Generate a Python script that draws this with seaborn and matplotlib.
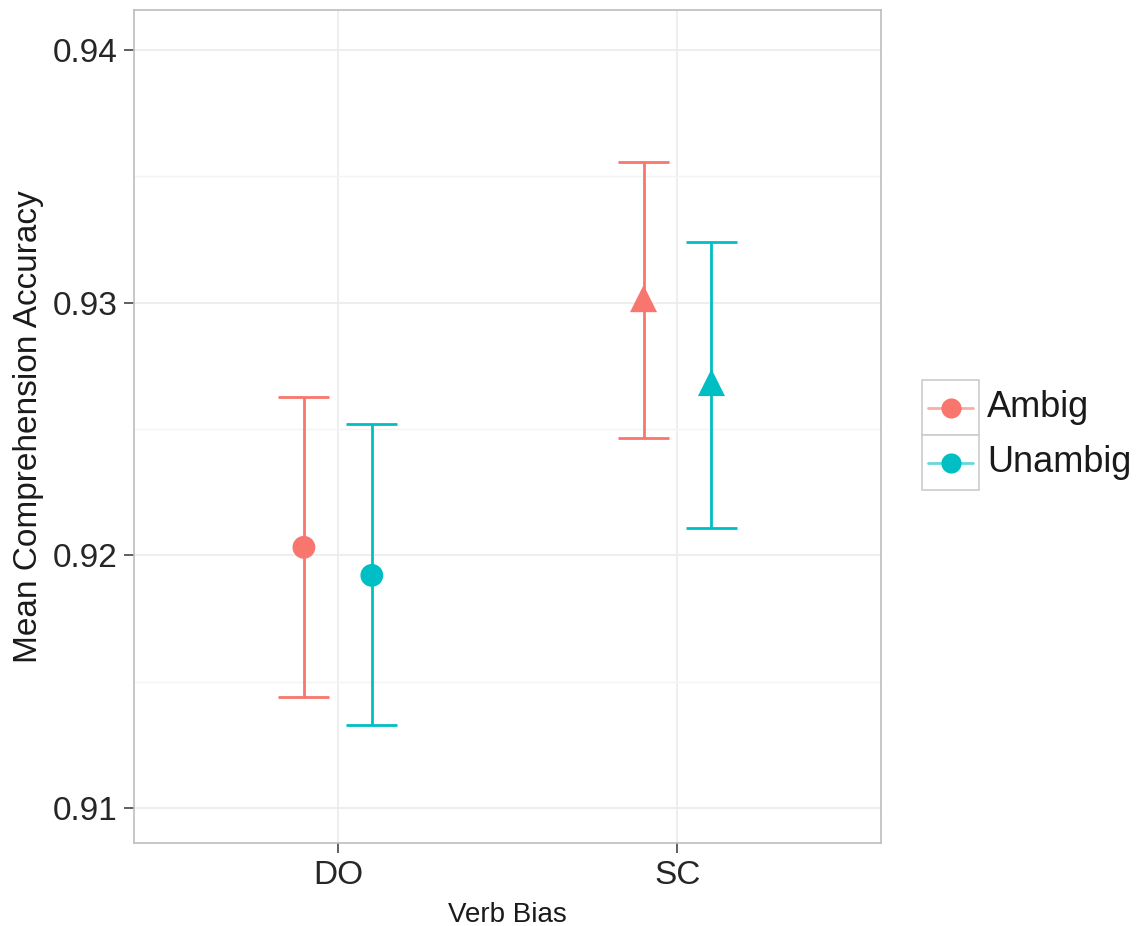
import numpy as np
import pandas as pd
import matplotlib
matplotlib.use('Agg')
import matplotlib.pyplot as plt
import seaborn as sns
from matplotlib.lines import Line2D
from matplotlib.patches import Rectangle

# values
bias = ['DO', 'DO', 'SC', 'SC']
condition = ['Ambig', 'Unambig', 'Ambig', 'Unambig']
mean_acc = [0.92032, 0.91921, 0.93016, 0.92684]
upper = [0.92628, 0.92518, 0.93557, 0.93241]
lower = [0.91439, 0.91328, 0.92466, 0.92107]

bias_levels = ['DO', 'SC']
cond_levels = ['Ambig', 'Unambig']
palette = {'Ambig': '#F8766D', 'Unambig': '#00BFC4'}
markers = {'DO': 'o', 'SC': '^'}

df = pd.DataFrame({'bias': bias, 'condition': condition, 'acc': mean_acc,
                   'hi': upper, 'lo': lower})
dodge = {'Ambig': -0.1, 'Unambig': 0.1}
df['x'] = [bias_levels.index(b) + 1 + dodge[c] for b, c in zip(df['bias'], df['condition'])]

sns.set_style('whitegrid')
plt.rcParams['font.family'] = ['Liberation Sans', 'DejaVu Sans']

fig = plt.figure(figsize=(11.46, 9.26), dpi=100)
ax = fig.add_axes([0.117, 0.0896, 0.652, 0.8996])

# error bars
for _, r in df.iterrows():
    col = palette[r['condition']]
    ax.vlines(r['x'], r['lo'], r['hi'], color=col, lw=2, zorder=2)
    ax.hlines([r['lo'], r['hi']], r['x'] - 0.075, r['x'] + 0.075, color=col, lw=2, zorder=2)

sns.scatterplot(data=df, x='x', y='acc', hue='condition', style='bias', size='bias',
                palette=palette, markers=markers, sizes={'DO': 270, 'SC': 380},
                edgecolor='none', legend=False, ax=ax, zorder=3)

ax.set_xticks([1, 2])
ax.set_xticklabels(bias_levels)
ax.set_yticks([0.91, 0.92, 0.93, 0.94])
ax.set_yticklabels(['0.91', '0.92', '0.93', '0.94'])
ax.set_yticks([0.915, 0.925, 0.935], minor=True)
ax.set_xlim(0.4, 2.6)
ax.set_ylim(0.90862, 0.94158)
ax.set_xlabel('Verb Bias', fontsize=20, labelpad=8, color='#1a1a1a')
ax.set_ylabel('Mean Comprehension Accuracy', fontsize=24, labelpad=6, color='#1a1a1a')
ax.tick_params(axis='both', which='major', labelsize=24, length=7, width=1.2,
               color='#444444', labelcolor='#262626', pad=5, bottom=True, left=True)
ax.tick_params(axis='y', which='minor', length=0)
ax.grid(which='major', color='#EBEBEB', lw=1.2)
ax.grid(which='minor', axis='y', color='#F4F4F4', lw=1)
for s in ax.spines.values():
    s.set_color('#BDBDBD')
    s.set_linewidth(1.2)

# legend, ggplot style with boxed keys
W, H = fig.get_size_inches() * fig.dpi
for i, c in enumerate(cond_levels):
    y0 = 380 + i * 55
    fig.add_artist(Rectangle((922 / W, 1 - (y0 + 55) / H), 57 / W, 55 / H,
                             transform=fig.transFigure, facecolor='white',
                             edgecolor='#CCCCCC', lw=1.2))
    yc = 1 - (y0 + 27.5) / H
    fig.add_artist(Line2D([928 / W, 973 / W], [yc, yc], transform=fig.transFigure,
                          color=palette[c], lw=2, alpha=0.6))
    fig.add_artist(Line2D([950.5 / W], [yc], transform=fig.transFigure, color=palette[c],
                          marker='o', markersize=14.5, markeredgewidth=0))
    fig.text(987 / W, yc, c, fontsize=26, va='center', ha='left', color='#1a1a1a')

fig.savefig('out.png', dpi=100)
